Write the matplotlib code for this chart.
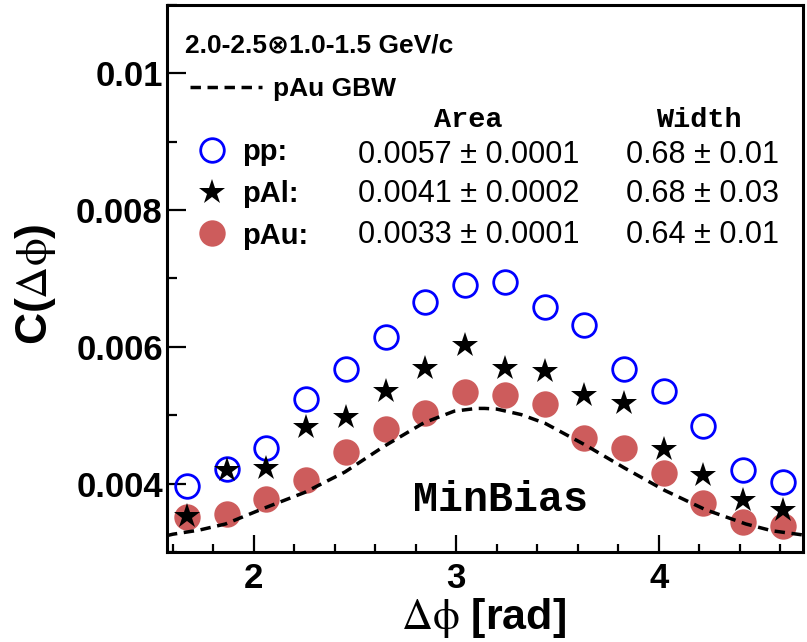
import numpy as np
import matplotlib
matplotlib.use("Agg")
import matplotlib.pyplot as plt
from matplotlib.ticker import MultipleLocator, FuncFormatter

# =============================================================================
#  Near-side correlation C(dphi): pp / pAl / pAu, MinBias
# =============================================================================

plt.rcParams["font.family"] = ["Liberation Sans", "DejaVu Sans"]
plt.rcParams["mathtext.fontset"] = "stix"

# bin centres in dphi [rad]
dphi = [1.669, 1.865, 2.062, 2.258, 2.454, 2.651, 2.847, 3.043,
        3.240, 3.436, 3.632, 3.829, 4.025, 4.221, 4.418, 4.614]

c_pp = [0.00397, 0.00422, 0.00452, 0.00524, 0.00568, 0.00614, 0.00666, 0.00690,
        0.00695, 0.00658, 0.00632, 0.00568, 0.00536, 0.00484, 0.00420, 0.00402]
c_pal = [0.00352, 0.00420, 0.00423, 0.00483, 0.00498, 0.00535, 0.00569, 0.00603,
         0.00569, 0.00564, 0.00530, 0.00518, 0.00450, 0.00413, 0.00376, 0.00362]
c_pau = [0.00351, 0.00356, 0.00378, 0.00406, 0.00446, 0.00480, 0.00503, 0.00534,
         0.00529, 0.00517, 0.00467, 0.00452, 0.00416, 0.00371, 0.00344, 0.00338]

# pAu GBW curve
gbw_x = [1.571, 1.60, 1.73, 1.86, 2.05, 2.25, 2.45, 2.64, 2.84, 2.99, 3.10, 3.14,
         3.20, 3.32, 3.44, 3.64, 3.83, 4.03, 4.23, 4.43, 4.56, 4.71]
gbw_y = [0.00324, 0.00326, 0.00332, 0.00341, 0.00364, 0.00387, 0.00417, 0.00454,
         0.00489, 0.00506, 0.00510, 0.00510, 0.00509, 0.00501, 0.00488, 0.00456,
         0.00423, 0.00390, 0.00362, 0.00341, 0.00331, 0.00325]

labels = ["pp:", "pAl:", "pAu:"]
area = ["0.0057 \u00b1 0.0001", "0.0041 \u00b1 0.0002", "0.0033 \u00b1 0.0001"]
width = ["0.68 \u00b1 0.01", "0.68 \u00b1 0.03", "0.64 \u00b1 0.01"]

# =============================================================================
#  Figure
# =============================================================================
fig = plt.figure(figsize=(8.07, 6.42), dpi=100)
ax = fig.add_axes([0.2069, 0.1402, 0.7881, 0.852])

h_pau, = ax.plot(dphi, c_pau, linestyle="none", marker="o", markersize=19,
                 color="#cd5c5c", markeredgewidth=0, zorder=2)
h_pp, = ax.plot(dphi, c_pp, linestyle="none", marker="o", markersize=17,
                markerfacecolor="none", markeredgecolor="#0000ff",
                markeredgewidth=2.0, zorder=3)
h_pal, = ax.plot(dphi, c_pal, linestyle="none", marker="*", markersize=19,
                 color="black", markeredgewidth=0, zorder=4)
h_gbw, = ax.plot(gbw_x, gbw_y, color="black", linewidth=2.5,
                 linestyle=(0, (3.0, 1.9)), zorder=5)

ax.set_xlim(np.pi / 2, 3 * np.pi / 2)
ax.set_ylim(0.003, 0.011)

ax.xaxis.set_major_locator(MultipleLocator(1))
ax.xaxis.set_minor_locator(MultipleLocator(0.2))
ax.yaxis.set_major_locator(MultipleLocator(0.002))
ax.yaxis.set_minor_locator(MultipleLocator(0.001))
ax.yaxis.set_major_formatter(FuncFormatter(lambda v, p: "%g" % v))

ax.tick_params(axis="both", which="both", direction="in", width=1.6,
               labelsize=25, top=False, right=False)
ax.tick_params(axis="y", which="major", length=14, pad=3)
ax.tick_params(axis="y", which="minor", length=7)
ax.tick_params(axis="x", which="major", length=12, pad=7)
ax.tick_params(axis="x", which="minor", length=6)
for lab in ax.get_xticklabels() + ax.get_yticklabels():
    lab.set_fontweight("bold")
for sp in ax.spines.values():
    sp.set_linewidth(2.2)

ax.set_xlabel(r"$\mathrm{\Delta\phi}$ [rad]", fontsize=31, fontweight="bold")
ax.set_ylabel(r"C($\mathrm{\Delta\phi}$)", fontsize=32, fontweight="bold")
ax.xaxis.set_label_coords(0.497, -0.08)
ax.yaxis.set_label_coords(-0.172, 0.49)

# ---- header + GBW legend ----
ax.text(0.0283, 0.9269, "2.0-2.5\u22971.0-1.5 GeV/c", transform=ax.transAxes,
        ha="left", va="center", fontsize=19, fontweight="bold")

leg1 = ax.legend([h_gbw], ["pAu GBW"], loc="center left",
                 bbox_to_anchor=(0.0362, 0.8464), frameon=False,
                 borderpad=0, borderaxespad=0, handlelength=2.73,
                 handletextpad=0.42, prop=dict(size=19, weight="bold"))
ax.add_artist(leg1)

ax.legend([h_pp, h_pal, h_pau], labels, loc="center left",
          bbox_to_anchor=(0.0478, 0.6545), frameon=False,
          borderpad=0, borderaxespad=0, handlelength=1.0,
          handletextpad=0.53, labelspacing=0.47,
          prop=dict(size=21, weight="bold"))

# ---- Area / Width table ----
ax.text(0.4733, 0.7898, "Area", transform=ax.transAxes, ha="center",
        va="center", fontsize=20.5, fontweight="bold", family="Liberation Mono")
ax.text(0.8365, 0.7898, "Width", transform=ax.transAxes, ha="center",
        va="center", fontsize=20.5, fontweight="bold", family="Liberation Mono")

rows_y = [0.7258, 0.6545, 0.5795]
for yy, a, w in zip(rows_y, area, width):
    ax.text(0.474, yy, a, transform=ax.transAxes, ha="center", va="center",
            fontsize=22)
    ax.text(0.842, yy, w, transform=ax.transAxes, ha="center", va="center",
            fontsize=22)

ax.text(0.525, 0.0951, "MinBias", transform=ax.transAxes, ha="center",
        va="center", fontsize=30, fontweight="bold", family="Liberation Mono")

fig.savefig("out.png", dpi=100)
